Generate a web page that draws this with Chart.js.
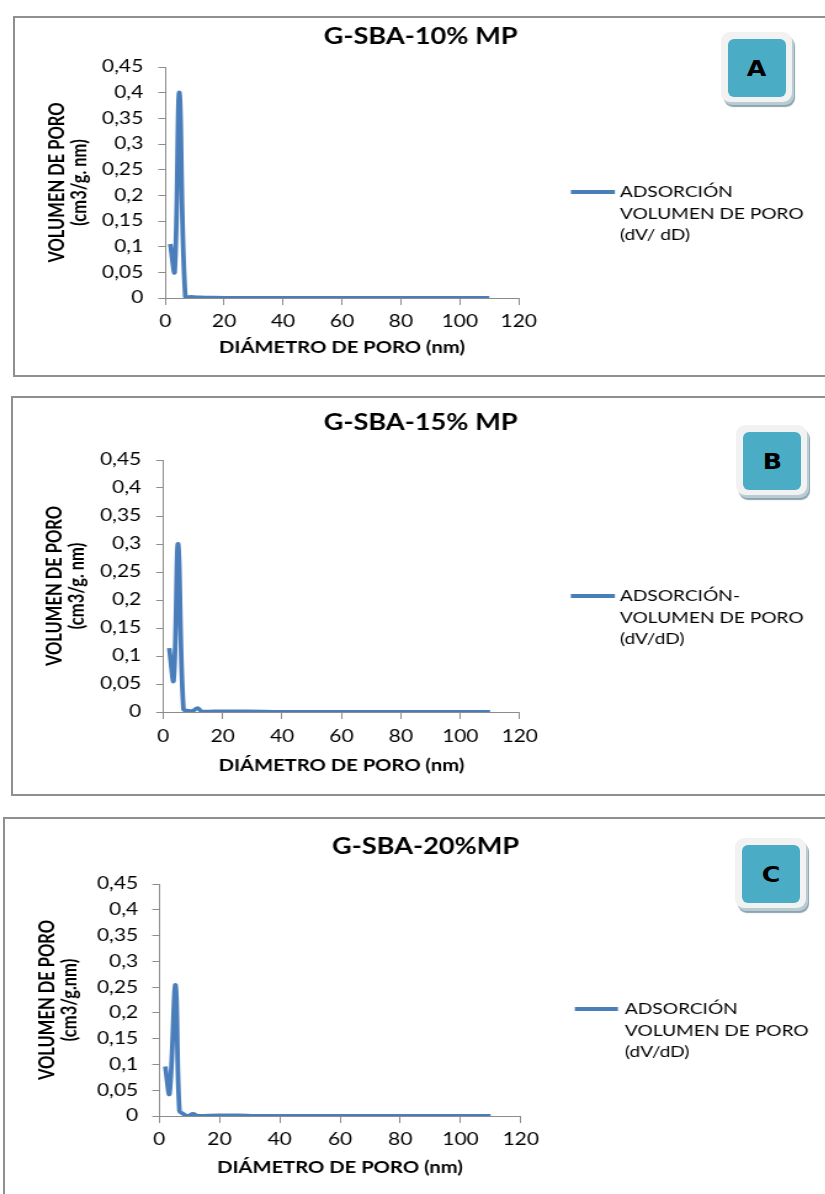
<!DOCTYPE html>
<html>
<head>
<meta charset="utf-8">
<script src="https://cdn.jsdelivr.net/npm/chart.js@4.4.1/dist/chart.umd.min.js"></script>
<style>
  html, body { margin: 0; padding: 0; background: #fff; }
  body { width: 825px; height: 1194px; position: relative; overflow: hidden; }
  .panel { position: absolute; border: 2px solid #8f8f8f; border-right: none; box-sizing: border-box; width: 900px; }
  .plot { position: absolute; left: 0; transform-origin: 0 0; }
  .badge { position: absolute; width: 71px; height: 70px; background: #f2f2f2; border-radius: 9px;
           box-shadow: 2px 3px 0 #b9ccd2, 3px 5px 1px #8aa5b0; }
  .badge span { position: absolute; left: 7px; top: 7px; width: 58px; height: 58px; background: #4bacc6;
                border-radius: 6px; display: flex; align-items: center; justify-content: center; }
  .badge b { font: 900 22px "DejaVu Sans", Lato, sans-serif; color: #000; transform: scaleX(1.15); }
</style>
</head>
<body>
<div class="panel" style="left:13px; top:16px; height:361px;"></div>
<div class="panel" style="left:11px; top:396px; height:400px;"></div>
<div class="panel" style="left:3px; top:817px; height:420px;"></div>

<div class="plot" id="wrapA"><canvas id="chartA"></canvas></div>
<div class="plot" id="wrapB"><canvas id="chartB"></canvas></div>
<div class="plot" id="wrapC"><canvas id="chartC"></canvas></div>

<div class="badge" style="left:721px; top:32px;"><span><b>A</b></span></div>
<div class="badge" style="left:736px; top:425px;"><span><b>B</b></span></div>
<div class="badge" style="left:735px; top:838px;"><span><b>C</b></span></div>

<script>
// pore size distributions (diameter nm, dV/dD cm3/g.nm)
const diamA = [1.7, 3.2, 4.8, 6.8, 9, 12, 16, 25, 40, 60, 80, 100, 110];
const volA  = [0.105, 0.052, 0.40, 0.003, 0.002, 0.001, 0.0005, 0, 0, 0, 0, 0, 0];

const diamB = [2.0, 3.5, 5.0, 6.8, 8.5, 10, 11.6, 13, 17, 28, 40, 60, 80, 100, 110];
const volB  = [0.114, 0.057, 0.30, 0.005, 0.002, 0.002, 0.007, 0.001, 0.001, 0.001, 0, 0, 0, 0, 0];

const diamC = [2.0, 3.4, 5.4, 6.7, 8, 9.5, 11.2, 13, 20, 26, 32, 50, 80, 100, 110];
const volC  = [0.096, 0.044, 0.254, 0.01, 0.004, 0, 0.004, 0, 0.001, 0.001, 0, 0, 0, 0, 0];

const titles = ['G-SBA-10% MP', 'G-SBA-15% MP', 'G-SBA-20%MP'];
const legendA = ['ADSORCIÓN', 'VOLUMEN DE PORO', '(dV/ dD)'];
const legendB = ['ADSORCIÓN-', 'VOLUMEN DE PORO', '(dV/dD)'];
const legendC = ['ADSORCIÓN', 'VOLUMEN DE PORO', '(dV/dD)'];
const yTitleA = ['VOLUMEN DE PORO', '(cm3/g. nm)'];
const yTitleB = ['VOLUMEN DE PORO', '(cm3/g. nm)'];
const yTitleC = ['VOLUMEN DE PORO', '(cm3/g.nm)'];
const xTitle = 'DIÁMETRO DE PORO (nm)';

const xMax = 120, xStep = 20;
const yMax = 0.45, yStep = 0.05;

// the sheet was pasted in horizontally stretched, so every plot is drawn narrow and widened
const S = 1.23;
const W = 825 / S;
const FONT = 'Lato, "Liberation Sans", sans-serif';
const LINE = '#4a7ebb';
const AXIS = '#8c8c8c';

// title drawn centred over the whole panel
const panelTitle = {
  id: 'panelTitle',
  afterDraw(chart, args, o) {
    const ctx = chart.ctx;
    ctx.save();
    ctx.font = 'bold 22px ' + FONT;
    ctx.fillStyle = '#000';
    ctx.textAlign = 'center';
    ctx.textBaseline = 'middle';
    ctx.fillText(o.text, o.x, o.y);
    ctx.restore();
  }
};

// legend to the right of the plot, label broken over several lines
const sideLegend = {
  id: 'sideLegend',
  afterDraw(chart, args, o) {
    const ctx = chart.ctx;
    const ds = chart.data.datasets[0];
    ctx.save();
    ctx.strokeStyle = ds.borderColor;
    ctx.lineWidth = ds.borderWidth;
    ctx.beginPath();
    ctx.moveTo(o.x0, o.y);
    ctx.lineTo(o.x1, o.y);
    ctx.stroke();
    ctx.font = '15.5px ' + FONT;
    ctx.fillStyle = '#000';
    ctx.textBaseline = 'middle';
    o.lines.forEach((t, i) => ctx.fillText(t, o.textX, o.y + i * 21.5));
    ctx.restore();
  }
};

function commaNum(v) {
  return Number(v.toFixed(2)).toString().replace('.', ',');
}

// p: positions in page pixels, converted to the narrow drawing space
function makeChart(id, wrapId, p, diam, vol, title, legendLines, yTitle) {
  const wrap = document.getElementById(wrapId);
  wrap.style.top = p.top + 'px';
  wrap.style.width = W + 'px';
  wrap.style.height = p.h + 'px';
  wrap.style.transform = 'scaleX(' + S + ')';

  const left = p.L / S, right = p.R / S;
  const yTick = 7 / S;
  const yTitleLh = 16.5 * 1.08;

  return new Chart(document.getElementById(id), {
    type: 'line',
    data: {
      datasets: [{
        label: legendLines.join(' '),
        data: diam.map((d, i) => ({ x: d, y: vol[i] })),
        borderColor: LINE,
        borderWidth: 3.8,
        pointRadius: 0,
        tension: 0.4,
        fill: false
      }]
    },
    options: {
      responsive: true,
      maintainAspectRatio: false,
      animation: false,
      devicePixelRatio: 1,
      layout: { padding: { left: 0, top: p.T, right: W - right, bottom: 0 } },
      plugins: {
        legend: { display: false },
        tooltip: { enabled: false },
        panelTitle: { text: title, x: p.titleX / S, y: p.titleY },
        sideLegend: { lines: legendLines, x0: p.legX0 / S, x1: p.legX1 / S, textX: p.legText / S, y: p.legY }
      },
      scales: {
        x: {
          type: 'linear',
          min: 0, max: xMax,
          afterFit: s => { s.height = p.h - p.B; },
          border: { color: AXIS, width: 1 },
          grid: { drawOnChartArea: false, drawTicks: true, tickLength: 7, color: AXIS },
          ticks: { stepSize: xStep, color: '#000', font: { family: FONT, size: 17 }, padding: p.B2 - p.B - 17.2 },
          title: {
            display: true, text: xTitle, color: '#000',
            font: { family: FONT, size: 16.4, weight: 'bold' },
            padding: { top: 0, bottom: p.h - p.xTitleY - 9.8 }
          }
        },
        y: {
          min: 0, max: yMax,
          afterFit: s => { s.width = left; },
          border: { color: AXIS, width: 1 },
          grid: { drawOnChartArea: false, drawTicks: true, tickLength: yTick, color: AXIS },
          ticks: {
            stepSize: yStep, color: '#000', font: { family: FONT, size: 17 },
            padding: left - yTick - p.labR / S,
            callback: v => commaNum(v)
          },
          title: {
            display: true, text: yTitle, color: '#000',
            font: { family: FONT, size: 16.5, weight: 'bold', lineHeight: 1.08 },
            padding: { top: p.yT1 / S - yTitleLh / 2, bottom: 0 }
          }
        }
      }
    },
    plugins: [panelTitle, sideLegend]
  });
}

makeChart('chartA', 'wrapA',
  { top: 16, h: 361, L: 165, R: 518, T: 51, B: 282, B2: 306, xTitleY: 332, labR: 143, yT1: 58,
    titleX: 420, titleY: 21, legX0: 570, legX1: 614, legText: 619, legY: 176 },
  diamA, volA, titles[0], legendA, yTitleA);

makeChart('chartB', 'wrapB',
  { top: 396, h: 400, L: 163, R: 519, T: 64, B: 316, B2: 341, xTitleY: 370, labR: 141, yT1: 55,
    titleX: 420, titleY: 27, legX0: 570, legX1: 614, legText: 619, legY: 200 },
  diamB, volB, titles[1], legendB, yTitleB);

makeChart('chartC', 'wrapC',
  { top: 817, h: 377, L: 159, R: 520, T: 67, B: 299, B2: 323, xTitleY: 351, labR: 138, yT1: 48,
    titleX: 425, titleY: 30, legX0: 574, legX1: 617, legText: 624, legY: 192 },
  diamC, volC, titles[2], legendC, yTitleC);
</script>
</body>
</html>
